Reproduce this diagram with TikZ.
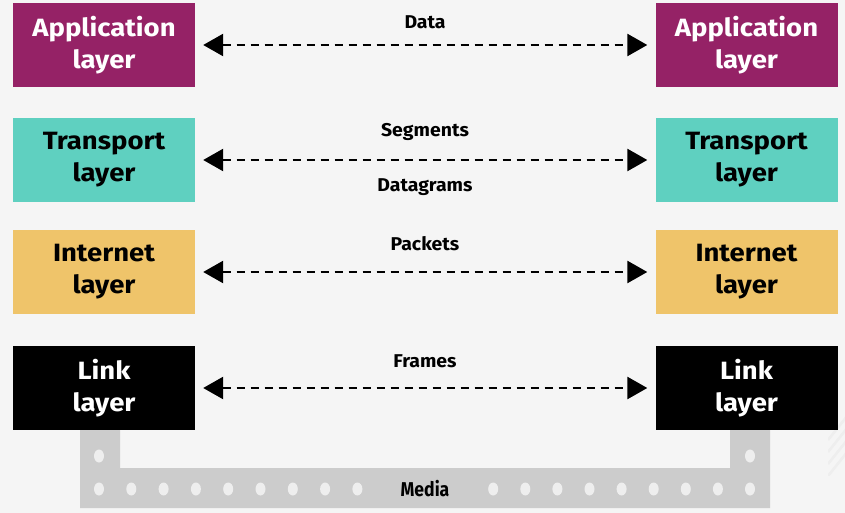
\documentclass[tikz,border=0pt]{standalone}
\usepackage{fontspec}
\setmainfont{Fira Sans}
\newfontfamily\boxfont[FakeStretch=1.1]{Fira Sans}
\newfontfamily\lblfont[FakeStretch=1.05]{Fira Sans}
\newfontfamily\medfont[FakeStretch=0.88]{Fira Sans}
\usetikzlibrary{arrows.meta}
\definecolor{bg}{HTML}{F5F5F5}
\definecolor{appc}{HTML}{952266}
\definecolor{trc}{HTML}{5FD0C0}
\definecolor{inc}{HTML}{EFC46A}
\definecolor{media}{HTML}{CCCCCC}
\definecolor{dotc}{HTML}{EEEEEE}
\definecolor{hatch}{HTML}{EEEEEE}
\tikzset{
  layer/.style={minimum width=182pt, minimum height=84pt, inner sep=0pt, align=center,
    font=\boxfont\fontsize{25}{32}\selectfont\bfseries, text=white},
  flow/.style={line width=2.6pt, dash pattern=on 8pt off 6pt, {Triangle[length=20pt,width=22pt]}-{Triangle[length=20pt,width=22pt]}, shorten <=1pt, shorten >=1pt},
  lbl/.style={font=\lblfont\fontsize{18.5}{20}\selectfont\bfseries, text=black},
  medlbl/.style={font=\medfont\fontsize{20}{22}\selectfont\bfseries, text=black}
}
\begin{document}
\begin{tikzpicture}[x=1pt,y=-1pt]
\fill[bg] (0,0) rectangle (845,513);
\useasboundingbox (0,0) rectangle (845,513);
% hatching
\begin{scope}
\clip (828,415) rectangle (845,475);
\foreach \k in {0,1,2,3}{
  \draw[hatch, line width=2.5pt] (828,{440+12*\k}) -- (860,{400+12*\k});
}
\end{scope}
% media
\fill[media] (80,430) -- (120,430) -- (120,468) -- (730,468) -- (730,430) -- (770,430) -- (770,508) -- (80,508) -- cycle;
\fill[dotc] (99,456) ellipse (5pt and 6.5pt);
\fill[dotc] (750,456) ellipse (5pt and 6.5pt);
\foreach \i in {0,...,8}{
  \fill[dotc] ({99+32.3*\i},489) ellipse (5pt and 6.5pt);
  \fill[dotc] ({750-32.1*\i},489) ellipse (5pt and 6.5pt);
}
\node[medlbl] (medlabel) at (425,489) {Media};
% layers
\node[layer, fill=appc] (appL) at (104,45) {Application\\layer};
\node[layer, fill=appc] (appR) at (746.5,45) {Application\\layer};
\node[layer, fill=trc, text=black] (trL) at (104,160) {Transport\\layer};
\node[layer, fill=trc, text=black] (trR) at (746.5,160) {Transport\\layer};
\node[layer, fill=inc, text=black] (inL) at (104,272) {Internet\\layer};
\node[layer, fill=inc, text=black] (inR) at (746.5,272) {Internet\\layer};
\node[layer, fill=black] (lkL) at (104,388) {Link\\layer};
\node[layer, fill=black] (lkR) at (746.5,388) {Link\\layer};
% arrows
\draw[flow] ([xshift=7pt]appL.east) -- ([xshift=-7pt]appR.west);
\draw[flow] ([xshift=7pt]trL.east) -- ([xshift=-7pt]trR.west);
\draw[flow] ([xshift=7pt]inL.east) -- ([xshift=-7pt]inR.west);
\draw[flow] ([xshift=7pt]lkL.east) -- ([xshift=-7pt]lkR.west);
% labels
\node[lbl] (ldata) at (425,22) {Data};
\node[lbl] (lseg) at (425,132) {Segments};
\node[lbl] (ldg) at (425,187) {Datagrams};
\node[lbl] (lpk) at (425,244) {Packets};
\node[lbl] (lfr) at (425,361) {Frames};
\end{tikzpicture}
\end{document}
